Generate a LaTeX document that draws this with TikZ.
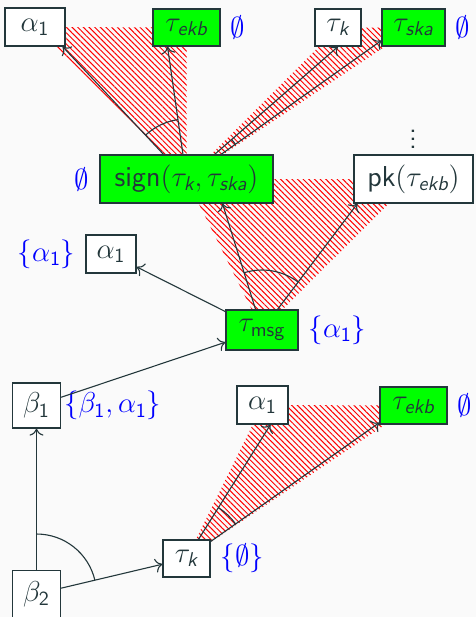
\documentclass[tikz,border=0pt]{standalone}
\usepackage{amsmath}
\usetikzlibrary{patterns.meta,angles,calc,arrows.meta}
\definecolor{fg}{HTML}{23373B}
\definecolor{bgc}{HTML}{FAFAFA}
\newcommand{\si}[1]{\text{\sffamily\itshape #1}}
\newcommand{\su}[1]{\text{\sffamily #1}}
\pgfdeclarelayer{bgl}
\pgfdeclarelayer{hatchl}
\pgfsetlayers{bgl,hatchl,main}
\begin{document}
\begin{tikzpicture}[x=0.5pt,y=-0.5pt,
  font=\fontsize{14.4}{17}\selectfont\sffamily,
  box/.style={draw=fg, line width=0.6pt, fill=white, text=fg, inner sep=1pt},
  gbox/.style={box, fill=green},
  sz/.style 2 args={minimum width=#1pt, minimum height=#2pt},
  lbl/.style={text=blue, inner sep=4.8pt},
  arr/.style={-{To[length=3.5pt,width=7pt]}, draw=fg, line width=0.55pt},
  ang/.style={draw=fg, line width=0.55pt, angle radius=30pt},
  hatch/.style={pattern={Lines[angle=-45,distance=2pt,line width=0.5pt]}, pattern color=red}]
\useasboundingbox (0,0) rectangle (476,617);
\begin{pgfonlayer}{bgl}
\fill[bgc] (0,0) rectangle (476,617);
\end{pgfonlayer}
% nodes
\node[box, sz={30}{19}] (a1t) at (35,27) {$\alpha_{\su{1}}$};
\node[gbox, sz={33.5}{18.5}] (tekbt) at (186.5,27.5) {$\tau_{\si{ekb}}$};
\node[box, sz={23}{18.5}] (tkt) at (338,27.5) {$\tau_{\si{k}}$};
\node[gbox, sz={31.5}{18.5}] (tskat) at (413.5,27.5) {$\tau_{\si{ska}}$};
\node[gbox, sz={86.5}{24}] (sign) at (186.5,179) {$\su{sign}(\tau_{\si{k}},\tau_{\si{ska}})$};
\node[box, sz={59.5}{24}] (pk) at (413.5,179) {$\su{pk}(\tau_{\si{ekb}})$};
\node[text=fg, inner sep=0pt] (dots) at (413,133) {$\vdots$};
\node[box, sz={25}{19}] (a1m) at (111,254) {$\alpha_{\su{1}}$};
\node[gbox, sz={36}{20}] (tmsg) at (262,330) {$\tau_{\su{msg}}$};
\node[box, sz={24}{22.5}] (b1) at (36.5,405.5) {$\beta_{\su{1}}$};
\node[box, sz={25.5}{19}] (a1b) at (262.5,405) {$\alpha_{\su{1}}$};
\node[gbox, sz={33.5}{18.5}] (tekbb) at (413.5,405.5) {$\tau_{\si{ekb}}$};
\node[box, sz={23.5}{18.5}] (tkb) at (186.5,558.5) {$\tau_{\si{k}}$};
\node[box, sz={24}{23.5}] (b2) at (36.5,594) {$\beta_{\su{2}}$};
% labels
\node[lbl, anchor=west] (e1) at (tekbt.east) {$\emptyset$};
\node[lbl, anchor=west] (e2) at (tskat.east) {$\emptyset$};
\node[lbl, anchor=east] (e3) at (sign.west) {$\emptyset$};
\node[lbl, anchor=east] (l1) at (a1m.west) {$\{\alpha_{\su{1}}\}$};
\node[lbl, anchor=west] (l2) at (tmsg.east) {$\{\alpha_{\su{1}}\}$};
\node[lbl, anchor=west, xshift=-3.5pt] (l3) at (b1.east) {$\{\beta_{\su{1}},\alpha_{\su{1}}\}$};
\node[lbl, anchor=west] (e4) at (tekbb.east) {$\emptyset$};
\node[lbl, anchor=west] (l4) at (tkb.east) {$\{\emptyset\}$};
% arrow end points
\coordinate (p1) at ([xshift=-1.5pt]a1t.south east);
\coordinate (p2) at ([xshift=-9.5pt]tekbt.south);
\coordinate (p3) at (tkt.south);
\coordinate (p4) at ([yshift=-6.5pt]tskat.west);
\coordinate (p5) at ([xshift=18pt]sign.south);
\coordinate (p6) at ([xshift=2pt]pk.south west);
\coordinate (p7) at ([xshift=4pt]a1b.south);
\coordinate (p8) at ([yshift=1pt]tekbb.south west);
% hatched regions
\begin{pgfonlayer}{hatchl}
\fill[hatch] (sign.center) -- (a1t.center) -- (tekbt.center) -- cycle;
\fill[hatch] (sign.center) -- (tkt.center) -- (tskat.center) -- cycle;
\fill[hatch] (tmsg.center) -- (sign.center) -- (pk.center) -- cycle;
\fill[hatch] (tkb.center) -- (a1b.center) -- (tekbb.center) -- cycle;
\end{pgfonlayer}
% arrows
\draw[arr] (sign) -- (p1);
\draw[arr] (sign) -- (p2);
\draw[arr] (sign) -- (p3);
\draw[arr] (sign) -- (p4);
\draw[arr] (tmsg) -- (p5);
\draw[arr] (tmsg) -- (p6);
\draw[arr] (tmsg) -- (a1m);
\draw[arr] (b1) -- (tmsg);
\draw[arr] (b2) -- (b1);
\draw[arr] (b2) -- (tkb);
\draw[arr] (tkb) -- (p7);
\draw[arr] (tkb) -- (p8);
% angle arcs
\pic[ang] {angle=p2--sign--p1};
\pic[ang] {angle=p4--sign--p3};
\pic[ang] {angle=p6--tmsg--p5};
\pic[ang] {angle=p8--tkb--p7};
\pic[ang] {angle=tkb--b2--b1};
\end{tikzpicture}
\end{document}
